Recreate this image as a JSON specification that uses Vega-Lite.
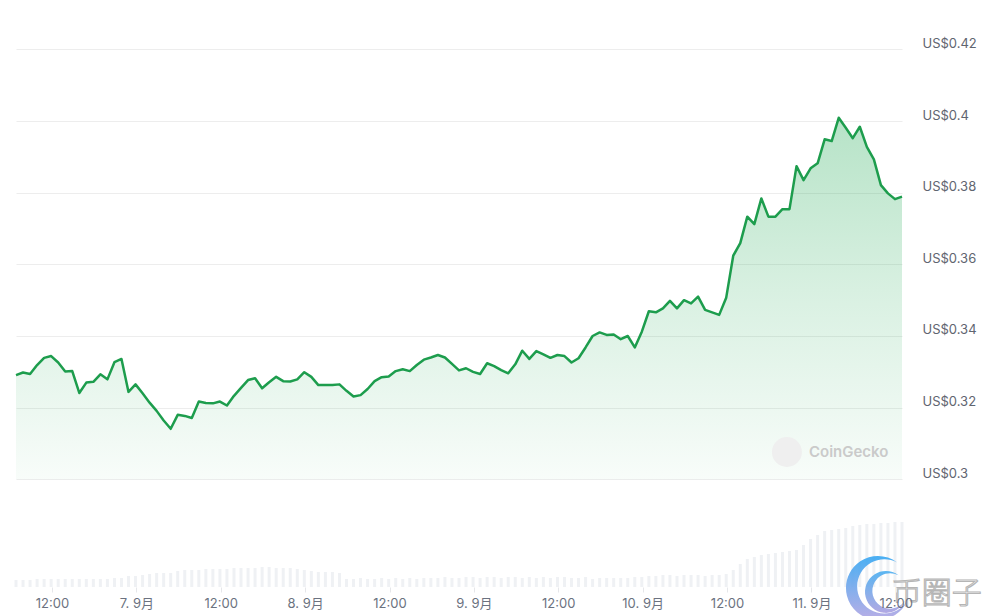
{
  "$schema": "https://vega.github.io/schema/vega-lite/v6.json",
  "width": 886,
  "height": 587,
  "padding": {"left": 14, "top": 0, "right": 0, "bottom": 0},
  "background": "white",
  "config": {"view": {"stroke": null}, "font": "Inter"},
  "data": {"values": [
    {"t":"2024-09-06T06:53","p":0.3291,"v":0.7},{"t":"2024-09-06T07:53","p":0.3298,"v":0.7},{"t":"2024-09-06T08:53","p":0.3294,"v":0.7},{"t":"2024-09-06T09:53","p":0.3319,"v":0.8},{"t":"2024-09-06T10:53","p":0.3339,"v":0.8},{"t":"2024-09-06T11:53","p":0.3344,"v":0.8},{"t":"2024-09-06T12:53","p":0.3326,"v":0.8},{"t":"2024-09-06T13:53","p":0.3301,"v":0.8},{"t":"2024-09-06T14:53","p":0.3302,"v":0.8},{"t":"2024-09-06T15:53","p":0.3241,"v":0.8},{"t":"2024-09-06T16:53","p":0.3270,"v":0.8},{"t":"2024-09-06T17:53","p":0.3272,"v":0.8},{"t":"2024-09-06T18:53","p":0.3293,"v":0.8},{"t":"2024-09-06T19:53","p":0.3279,"v":0.8},{"t":"2024-09-06T20:53","p":0.3327,"v":0.9},{"t":"2024-09-06T21:53","p":0.3336,"v":0.9},{"t":"2024-09-06T22:53","p":0.3244,"v":1.1},{"t":"2024-09-06T23:53","p":0.3265,"v":1.1},
    {"t":"2024-09-07T00:53","p":0.3240,"v":1.2},{"t":"2024-09-07T01:53","p":0.3214,"v":1.3},{"t":"2024-09-07T02:53","p":0.3191,"v":1.4},{"t":"2024-09-07T03:53","p":0.3164,"v":1.4},{"t":"2024-09-07T04:53","p":0.3141,"v":1.4},{"t":"2024-09-07T05:53","p":0.3180,"v":1.6},{"t":"2024-09-07T06:53","p":0.3177,"v":1.7},{"t":"2024-09-07T07:53","p":0.3171,"v":1.7},{"t":"2024-09-07T08:53","p":0.3217,"v":1.7},{"t":"2024-09-07T09:53","p":0.3213,"v":1.8},{"t":"2024-09-07T10:53","p":0.3212,"v":1.8},{"t":"2024-09-07T11:53","p":0.3217,"v":1.8},{"t":"2024-09-07T12:53","p":0.3206,"v":1.8},{"t":"2024-09-07T13:53","p":0.3233,"v":1.9},{"t":"2024-09-07T14:53","p":0.3255,"v":1.9},{"t":"2024-09-07T15:53","p":0.3277,"v":1.9},{"t":"2024-09-07T16:53","p":0.3282,"v":1.9},{"t":"2024-09-07T17:53","p":0.3254,"v":2.0},{"t":"2024-09-07T18:53","p":0.3271,"v":2.0},{"t":"2024-09-07T19:53","p":0.3286,"v":1.9},{"t":"2024-09-07T20:53","p":0.3274,"v":1.9},{"t":"2024-09-07T21:53","p":0.3273,"v":1.9},{"t":"2024-09-07T22:53","p":0.3279,"v":1.8},{"t":"2024-09-07T23:53","p":0.3299,"v":1.7},
    {"t":"2024-09-08T00:53","p":0.3286,"v":1.6},{"t":"2024-09-08T01:53","p":0.3263,"v":1.5},{"t":"2024-09-08T02:53","p":0.3263,"v":1.5},{"t":"2024-09-08T03:53","p":0.3263,"v":1.5},{"t":"2024-09-08T04:53","p":0.3265,"v":1.4},{"t":"2024-09-08T05:53","p":0.3247,"v":0.8},{"t":"2024-09-08T06:53","p":0.3231,"v":0.8},{"t":"2024-09-08T07:53","p":0.3235,"v":0.9},{"t":"2024-09-08T08:53","p":0.3252,"v":0.8},{"t":"2024-09-08T09:53","p":0.3274,"v":0.8},{"t":"2024-09-08T10:53","p":0.3285,"v":0.9},{"t":"2024-09-08T11:53","p":0.3287,"v":0.8},{"t":"2024-09-08T12:53","p":0.3302,"v":0.9},{"t":"2024-09-08T13:53","p":0.3307,"v":0.8},{"t":"2024-09-08T14:53","p":0.3302,"v":0.9},{"t":"2024-09-08T15:53","p":0.3319,"v":0.8},{"t":"2024-09-08T16:53","p":0.3334,"v":0.9},{"t":"2024-09-08T17:53","p":0.3340,"v":0.9},{"t":"2024-09-08T18:53","p":0.3347,"v":0.9},{"t":"2024-09-08T19:53","p":0.3340,"v":1.0},{"t":"2024-09-08T20:53","p":0.3322,"v":0.9},{"t":"2024-09-08T21:53","p":0.3304,"v":0.9},{"t":"2024-09-08T22:53","p":0.3310,"v":1.0},{"t":"2024-09-08T23:53","p":0.3300,"v":1.0},
    {"t":"2024-09-09T00:53","p":0.3294,"v":0.9},{"t":"2024-09-09T01:53","p":0.3324,"v":1.0},{"t":"2024-09-09T02:53","p":0.3316,"v":1.0},{"t":"2024-09-09T03:53","p":0.3305,"v":0.9},{"t":"2024-09-09T04:53","p":0.3296,"v":1.0},{"t":"2024-09-09T05:53","p":0.3321,"v":1.0},{"t":"2024-09-09T06:53","p":0.3359,"v":0.9},{"t":"2024-09-09T07:53","p":0.3336,"v":1.0},{"t":"2024-09-09T08:53","p":0.3358,"v":0.9},{"t":"2024-09-09T09:53","p":0.3349,"v":1.0},{"t":"2024-09-09T10:53","p":0.3339,"v":0.9},{"t":"2024-09-09T11:53","p":0.3347,"v":1.0},{"t":"2024-09-09T12:53","p":0.3344,"v":1.0},{"t":"2024-09-09T13:53","p":0.3326,"v":0.9},{"t":"2024-09-09T14:53","p":0.3338,"v":0.9},{"t":"2024-09-09T15:53","p":0.3368,"v":1.0},{"t":"2024-09-09T16:53","p":0.3400,"v":0.8},{"t":"2024-09-09T17:53","p":0.3410,"v":0.9},{"t":"2024-09-09T18:53","p":0.3403,"v":0.9},{"t":"2024-09-09T19:53","p":0.3404,"v":0.9},{"t":"2024-09-09T20:53","p":0.3391,"v":0.9},{"t":"2024-09-09T21:53","p":0.3400,"v":0.9},{"t":"2024-09-09T22:53","p":0.3368,"v":1.0},{"t":"2024-09-09T23:53","p":0.3412,"v":1.0},
    {"t":"2024-09-10T00:53","p":0.3469,"v":1.1},{"t":"2024-09-10T01:53","p":0.3466,"v":1.1},{"t":"2024-09-10T02:53","p":0.3477,"v":1.2},{"t":"2024-09-10T03:53","p":0.3498,"v":1.2},{"t":"2024-09-10T04:53","p":0.3477,"v":1.1},{"t":"2024-09-10T05:53","p":0.3500,"v":1.2},{"t":"2024-09-10T06:53","p":0.3491,"v":1.2},{"t":"2024-09-10T07:53","p":0.3510,"v":1.2},{"t":"2024-09-10T08:53","p":0.3473,"v":1.1},{"t":"2024-09-10T09:53","p":0.3466,"v":1.2},{"t":"2024-09-10T10:53","p":0.3459,"v":1.2},{"t":"2024-09-10T11:53","p":0.3507,"v":1.3},{"t":"2024-09-10T12:53","p":0.3624,"v":1.7},{"t":"2024-09-10T13:53","p":0.3659,"v":2.3},{"t":"2024-09-10T14:53","p":0.3733,"v":2.8},{"t":"2024-09-10T15:53","p":0.3712,"v":3.0},{"t":"2024-09-10T16:53","p":0.3784,"v":3.2},{"t":"2024-09-10T17:53","p":0.3733,"v":3.3},{"t":"2024-09-10T18:53","p":0.3733,"v":3.4},{"t":"2024-09-10T19:53","p":0.3754,"v":3.5},{"t":"2024-09-10T20:53","p":0.3754,"v":3.6},{"t":"2024-09-10T21:53","p":0.3874,"v":3.7},{"t":"2024-09-10T22:53","p":0.3835,"v":4.2},{"t":"2024-09-10T23:53","p":0.3868,"v":4.8},
    {"t":"2024-09-11T00:53","p":0.3882,"v":5.2},{"t":"2024-09-11T01:53","p":0.3949,"v":5.6},{"t":"2024-09-11T02:53","p":0.3944,"v":5.7},{"t":"2024-09-11T03:53","p":0.4009,"v":5.8},{"t":"2024-09-11T04:53","p":0.3981,"v":5.9},{"t":"2024-09-11T05:53","p":0.3952,"v":6.1},{"t":"2024-09-11T06:53","p":0.3984,"v":6.2},{"t":"2024-09-11T07:53","p":0.3928,"v":6.3},{"t":"2024-09-11T08:53","p":0.3893,"v":6.3},{"t":"2024-09-11T09:53","p":0.3821,"v":6.4},{"t":"2024-09-11T10:53","p":0.3798,"v":6.4},{"t":"2024-09-11T11:53","p":0.3782,"v":6.5},{"t":"2024-09-11T12:53","p":0.3789,"v":6.5}
  ]},
  "layer": [
    {
      "mark": {"type": "bar", "width": 3, "color": "#eff1f4"},
      "encoding": {
        "x": {"field": "t", "type": "temporal", "scale": {"padding": 0, "domain": [{"year":2024,"month":9,"date":6,"hours":6,"minutes":53},{"year":2024,"month":9,"date":11,"hours":12,"minutes":53}]},
          "axis": {"title": null, "values": [{"year":2024,"month":9,"date":6,"hours":12},{"year":2024,"month":9,"date":7,"hours":0},{"year":2024,"month":9,"date":7,"hours":12},{"year":2024,"month":9,"date":8,"hours":0},{"year":2024,"month":9,"date":8,"hours":12},{"year":2024,"month":9,"date":9,"hours":0},{"year":2024,"month":9,"date":9,"hours":12},{"year":2024,"month":9,"date":10,"hours":0},{"year":2024,"month":9,"date":10,"hours":12},{"year":2024,"month":9,"date":11,"hours":0},{"year":2024,"month":9,"date":11,"hours":12}], "labelExpr": "hours(datum.value) == 0 ? date(datum.value) + '. 9月' : '12:00'", "grid": false, "domain": false, "ticks": true, "tickSize": 5, "tickColor": "#e6e7ea", "labelColor": "#6b7280", "labelFontSize": 13, "labelFont": "Inter, Noto Sans CJK SC", "labelPadding": 5, "labelFlush": false, "labelOverlap": false, "zindex": 1}},
        "y": {"field": "v", "type": "quantitative", "scale": {"domain": [0, 58.7], "nice": false}, "axis": null}
      }
    },
    {
      "layer": [
        {
          "mark": {
            "type": "area", "line": false,
            "fill": {"gradient": "linear", "x1": 0, "y1": 0, "x2": 0, "y2": 1,
              "stops": [{"offset": 0, "color": "rgba(34,170,85,0.33)"}, {"offset": 0.5, "color": "rgba(34,170,85,0.17)"}, {"offset": 1, "color": "rgba(34,170,85,0.03)"}]}
          },
          "encoding": {
            "x": {"field": "t", "type": "temporal", "scale": {"padding": 0, "domain": [{"year":2024,"month":9,"date":6,"hours":6,"minutes":53},{"year":2024,"month":9,"date":11,"hours":12,"minutes":53}]},
              "axis": {"title": null, "values": [{"year":2024,"month":9,"date":6,"hours":12},{"year":2024,"month":9,"date":7,"hours":0},{"year":2024,"month":9,"date":7,"hours":12},{"year":2024,"month":9,"date":8,"hours":0},{"year":2024,"month":9,"date":8,"hours":12},{"year":2024,"month":9,"date":9,"hours":0},{"year":2024,"month":9,"date":9,"hours":12},{"year":2024,"month":9,"date":10,"hours":0},{"year":2024,"month":9,"date":10,"hours":12},{"year":2024,"month":9,"date":11,"hours":0},{"year":2024,"month":9,"date":11,"hours":12}], "labelExpr": "hours(datum.value) == 0 ? date(datum.value) + '. 9月' : '12:00'", "grid": false, "domain": false, "ticks": true, "tickSize": 5, "tickColor": "#e6e7ea", "labelColor": "#6b7280", "labelFontSize": 13, "labelFont": "Inter, Noto Sans CJK SC", "labelPadding": 5, "labelFlush": false, "labelOverlap": false, "zindex": 1}},
            "y": {"field": "p", "type": "quantitative", "scale": {"domain": [0.26995, 0.43377], "nice": false, "zero": false},
              "axis": {"orient": "right", "title": null, "values": [0.3, 0.32, 0.34, 0.36, 0.38, 0.4, 0.42], "labelExpr": "'US$' + format(datum.value, '.2~f')", "grid": true, "gridColor": "#ededed", "domain": false, "ticks": false, "labelPadding": 20, "labelColor": "#5f6570", "labelFontSize": 13, "labelOffset": -6, "labelFont": "Inter"}},
            "y2": {"datum": 0.3}
          }
        },
        {
          "mark": {"type": "line", "color": "#1d9d4d", "strokeWidth": 2.5, "strokeJoin": "round"},
          "encoding": {
            "x": {"field": "t", "type": "temporal", "scale": {"padding": 0, "domain": [{"year":2024,"month":9,"date":6,"hours":6,"minutes":53},{"year":2024,"month":9,"date":11,"hours":12,"minutes":53}]},
              "axis": {"title": null, "values": [{"year":2024,"month":9,"date":6,"hours":12},{"year":2024,"month":9,"date":7,"hours":0},{"year":2024,"month":9,"date":7,"hours":12},{"year":2024,"month":9,"date":8,"hours":0},{"year":2024,"month":9,"date":8,"hours":12},{"year":2024,"month":9,"date":9,"hours":0},{"year":2024,"month":9,"date":9,"hours":12},{"year":2024,"month":9,"date":10,"hours":0},{"year":2024,"month":9,"date":10,"hours":12},{"year":2024,"month":9,"date":11,"hours":0},{"year":2024,"month":9,"date":11,"hours":12}], "labelExpr": "hours(datum.value) == 0 ? date(datum.value) + '. 9月' : '12:00'", "grid": false, "domain": false, "ticks": true, "tickSize": 5, "tickColor": "#e6e7ea", "labelColor": "#6b7280", "labelFontSize": 13, "labelFont": "Inter, Noto Sans CJK SC", "labelPadding": 5, "labelFlush": false, "labelOverlap": false, "zindex": 1}},
            "y": {"field": "p", "type": "quantitative", "scale": {"domain": [0.26995, 0.43377], "nice": false, "zero": false},
              "axis": {"orient": "right", "title": null, "values": [0.3, 0.32, 0.34, 0.36, 0.38, 0.4, 0.42], "labelExpr": "'US$' + format(datum.value, '.2~f')", "grid": true, "gridColor": "#ededed", "domain": false, "ticks": false, "labelPadding": 20, "labelColor": "#5f6570", "labelFontSize": 13, "labelOffset": -6, "labelFont": "Inter"}}
          }
        },
        {
          "data": {"values": [{}]},
          "mark": {"type": "point", "shape": "circle", "filled": true, "size": 900, "color": "#efefef", "opacity": 1},
          "encoding": {
            "x": {"datum": {"year":2024,"month":9,"date":10,"hours":20,"minutes":31}, "type": "temporal", "scale": {"padding": 0, "domain": [{"year":2024,"month":9,"date":6,"hours":6,"minutes":53},{"year":2024,"month":9,"date":11,"hours":12,"minutes":53}]},
              "axis": {"title": null, "values": [{"year":2024,"month":9,"date":6,"hours":12},{"year":2024,"month":9,"date":7,"hours":0},{"year":2024,"month":9,"date":7,"hours":12},{"year":2024,"month":9,"date":8,"hours":0},{"year":2024,"month":9,"date":8,"hours":12},{"year":2024,"month":9,"date":9,"hours":0},{"year":2024,"month":9,"date":9,"hours":12},{"year":2024,"month":9,"date":10,"hours":0},{"year":2024,"month":9,"date":10,"hours":12},{"year":2024,"month":9,"date":11,"hours":0},{"year":2024,"month":9,"date":11,"hours":12}], "labelExpr": "hours(datum.value) == 0 ? date(datum.value) + '. 9月' : '12:00'", "grid": false, "domain": false, "ticks": true, "tickSize": 5, "tickColor": "#e6e7ea", "labelColor": "#6b7280", "labelFontSize": 13, "labelFont": "Inter, Noto Sans CJK SC", "labelPadding": 5, "labelFlush": false, "labelOverlap": false, "zindex": 1}},
            "y": {"datum": 0.30763, "type": "quantitative", "scale": {"domain": [0.26995, 0.43377], "nice": false, "zero": false},
              "axis": {"orient": "right", "title": null, "values": [0.3, 0.32, 0.34, 0.36, 0.38, 0.4, 0.42], "labelExpr": "'US$' + format(datum.value, '.2~f')", "grid": true, "gridColor": "#ededed", "domain": false, "ticks": false, "labelPadding": 20, "labelColor": "#5f6570", "labelFontSize": 13, "labelOffset": -6, "labelFont": "Inter"}}
          }
        },
        {
          "data": {"values": [{}]},
          "mark": {"type": "text", "text": "CoinGecko", "align": "left", "baseline": "middle", "fontSize": 15, "fontWeight": 600, "font": "Inter", "color": "#cacaca"},
          "encoding": {
            "x": {"datum": {"year":2024,"month":9,"date":10,"hours":23,"minutes":39}, "type": "temporal", "scale": {"padding": 0, "domain": [{"year":2024,"month":9,"date":6,"hours":6,"minutes":53},{"year":2024,"month":9,"date":11,"hours":12,"minutes":53}]},
              "axis": {"title": null, "values": [{"year":2024,"month":9,"date":6,"hours":12},{"year":2024,"month":9,"date":7,"hours":0},{"year":2024,"month":9,"date":7,"hours":12},{"year":2024,"month":9,"date":8,"hours":0},{"year":2024,"month":9,"date":8,"hours":12},{"year":2024,"month":9,"date":9,"hours":0},{"year":2024,"month":9,"date":9,"hours":12},{"year":2024,"month":9,"date":10,"hours":0},{"year":2024,"month":9,"date":10,"hours":12},{"year":2024,"month":9,"date":11,"hours":0},{"year":2024,"month":9,"date":11,"hours":12}], "labelExpr": "hours(datum.value) == 0 ? date(datum.value) + '. 9月' : '12:00'", "grid": false, "domain": false, "ticks": true, "tickSize": 5, "tickColor": "#e6e7ea", "labelColor": "#6b7280", "labelFontSize": 13, "labelFont": "Inter, Noto Sans CJK SC", "labelPadding": 5, "labelFlush": false, "labelOverlap": false, "zindex": 1}},
            "y": {"datum": 0.30763, "type": "quantitative", "scale": {"domain": [0.26995, 0.43377], "nice": false, "zero": false},
              "axis": {"orient": "right", "title": null, "values": [0.3, 0.32, 0.34, 0.36, 0.38, 0.4, 0.42], "labelExpr": "'US$' + format(datum.value, '.2~f')", "grid": true, "gridColor": "#ededed", "domain": false, "ticks": false, "labelPadding": 20, "labelColor": "#5f6570", "labelFontSize": 13, "labelOffset": -6, "labelFont": "Inter"}}
          }
        },
        {
          "data": {"values": [{}]},
          "mark": {
            "type": "point", "filled": true, "size": 4096, "opacity": 0.9, "strokeWidth": 0,
            "shape": "M 0.6 -0.8 A 1 1 0 1 0 0.9059 0.4235 A 0.85 0.85 0 1 1 0.6 -0.8 Z",
            "fill": {"gradient": "linear", "x1": 0, "y1": 0, "x2": 0, "y2": 1, "stops": [{"offset": 0, "color": "#36a7f2"}, {"offset": 1, "color": "#b1a5e3"}]}
          },
          "encoding": {
            "x": {"datum": {"year":2024,"month":9,"date":11,"hours":9,"minutes":28}, "type": "temporal", "scale": {"padding": 0, "domain": [{"year":2024,"month":9,"date":6,"hours":6,"minutes":53},{"year":2024,"month":9,"date":11,"hours":12,"minutes":53}]},
              "axis": {"title": null, "values": [{"year":2024,"month":9,"date":6,"hours":12},{"year":2024,"month":9,"date":7,"hours":0},{"year":2024,"month":9,"date":7,"hours":12},{"year":2024,"month":9,"date":8,"hours":0},{"year":2024,"month":9,"date":8,"hours":12},{"year":2024,"month":9,"date":9,"hours":0},{"year":2024,"month":9,"date":9,"hours":12},{"year":2024,"month":9,"date":10,"hours":0},{"year":2024,"month":9,"date":10,"hours":12},{"year":2024,"month":9,"date":11,"hours":0},{"year":2024,"month":9,"date":11,"hours":12}], "labelExpr": "hours(datum.value) == 0 ? date(datum.value) + '. 9月' : '12:00'", "grid": false, "domain": false, "ticks": true, "tickSize": 5, "tickColor": "#e6e7ea", "labelColor": "#6b7280", "labelFontSize": 13, "labelFont": "Inter, Noto Sans CJK SC", "labelPadding": 5, "labelFlush": false, "labelOverlap": false, "zindex": 1}},
            "y": {"datum": 0.26967, "type": "quantitative", "scale": {"domain": [0.26995, 0.43377], "nice": false, "zero": false},
              "axis": {"orient": "right", "title": null, "values": [0.3, 0.32, 0.34, 0.36, 0.38, 0.4, 0.42], "labelExpr": "'US$' + format(datum.value, '.2~f')", "grid": true, "gridColor": "#ededed", "domain": false, "ticks": false, "labelPadding": 20, "labelColor": "#5f6570", "labelFontSize": 13, "labelOffset": -6, "labelFont": "Inter"}}
          }
        },
        {
          "data": {"values": [{}]},
          "mark": {
            "type": "point", "filled": true, "size": 1750, "opacity": 0.9, "strokeWidth": 0,
            "shape": "M 0.6 -0.8 A 1 1 0 1 0 0.9059 0.4235 A 0.85 0.85 0 1 1 0.6 -0.8 Z",
            "fill": {"gradient": "linear", "x1": 0, "y1": 0, "x2": 0, "y2": 1, "stops": [{"offset": 0, "color": "#4aaef0"}, {"offset": 1, "color": "#a99fe0"}]}
          },
          "encoding": {
            "x": {"datum": {"year":2024,"month":9,"date":11,"hours":10,"minutes":36}, "type": "temporal", "scale": {"padding": 0, "domain": [{"year":2024,"month":9,"date":6,"hours":6,"minutes":53},{"year":2024,"month":9,"date":11,"hours":12,"minutes":53}]},
              "axis": {"title": null, "values": [{"year":2024,"month":9,"date":6,"hours":12},{"year":2024,"month":9,"date":7,"hours":0},{"year":2024,"month":9,"date":7,"hours":12},{"year":2024,"month":9,"date":8,"hours":0},{"year":2024,"month":9,"date":8,"hours":12},{"year":2024,"month":9,"date":9,"hours":0},{"year":2024,"month":9,"date":9,"hours":12},{"year":2024,"month":9,"date":10,"hours":0},{"year":2024,"month":9,"date":10,"hours":12},{"year":2024,"month":9,"date":11,"hours":0},{"year":2024,"month":9,"date":11,"hours":12}], "labelExpr": "hours(datum.value) == 0 ? date(datum.value) + '. 9月' : '12:00'", "grid": false, "domain": false, "ticks": true, "tickSize": 5, "tickColor": "#e6e7ea", "labelColor": "#6b7280", "labelFontSize": 13, "labelFont": "Inter, Noto Sans CJK SC", "labelPadding": 5, "labelFlush": false, "labelOverlap": false, "zindex": 1}},
            "y": {"datum": 0.26856, "type": "quantitative", "scale": {"domain": [0.26995, 0.43377], "nice": false, "zero": false},
              "axis": {"orient": "right", "title": null, "values": [0.3, 0.32, 0.34, 0.36, 0.38, 0.4, 0.42], "labelExpr": "'US$' + format(datum.value, '.2~f')", "grid": true, "gridColor": "#ededed", "domain": false, "ticks": false, "labelPadding": 20, "labelColor": "#5f6570", "labelFontSize": 13, "labelOffset": -6, "labelFont": "Inter"}}
          }
        },
        {
          "data": {"values": [{}]},
          "mark": {"type": "text", "text": "币圈子", "align": "center", "baseline": "middle", "fontSize": 30, "fontWeight": 300, "font": "Noto Sans CJK SC", "fill": "#ffffff", "stroke": "#b5b5b5", "strokeWidth": 1.1},
          "encoding": {
            "x": {"datum": {"year":2024,"month":9,"date":11,"hours":17,"minutes":50}, "type": "temporal", "scale": {"padding": 0, "domain": [{"year":2024,"month":9,"date":6,"hours":6,"minutes":53},{"year":2024,"month":9,"date":11,"hours":12,"minutes":53}]},
              "axis": {"title": null, "values": [{"year":2024,"month":9,"date":6,"hours":12},{"year":2024,"month":9,"date":7,"hours":0},{"year":2024,"month":9,"date":7,"hours":12},{"year":2024,"month":9,"date":8,"hours":0},{"year":2024,"month":9,"date":8,"hours":12},{"year":2024,"month":9,"date":9,"hours":0},{"year":2024,"month":9,"date":9,"hours":12},{"year":2024,"month":9,"date":10,"hours":0},{"year":2024,"month":9,"date":10,"hours":12},{"year":2024,"month":9,"date":11,"hours":0},{"year":2024,"month":9,"date":11,"hours":12}], "labelExpr": "hours(datum.value) == 0 ? date(datum.value) + '. 9月' : '12:00'", "grid": false, "domain": false, "ticks": true, "tickSize": 5, "tickColor": "#e6e7ea", "labelColor": "#6b7280", "labelFontSize": 13, "labelFont": "Inter, Noto Sans CJK SC", "labelPadding": 5, "labelFlush": false, "labelOverlap": false, "zindex": 1}},
            "y": {"datum": 0.26800, "type": "quantitative", "scale": {"domain": [0.26995, 0.43377], "nice": false, "zero": false},
              "axis": {"orient": "right", "title": null, "values": [0.3, 0.32, 0.34, 0.36, 0.38, 0.4, 0.42], "labelExpr": "'US$' + format(datum.value, '.2~f')", "grid": true, "gridColor": "#ededed", "domain": false, "ticks": false, "labelPadding": 20, "labelColor": "#5f6570", "labelFontSize": 13, "labelOffset": -6, "labelFont": "Inter"}}
          }
        }
      ]
    }
  ],
  "resolve": {"scale": {"y": "independent"}, "axis": {"y": "independent"}}
}
